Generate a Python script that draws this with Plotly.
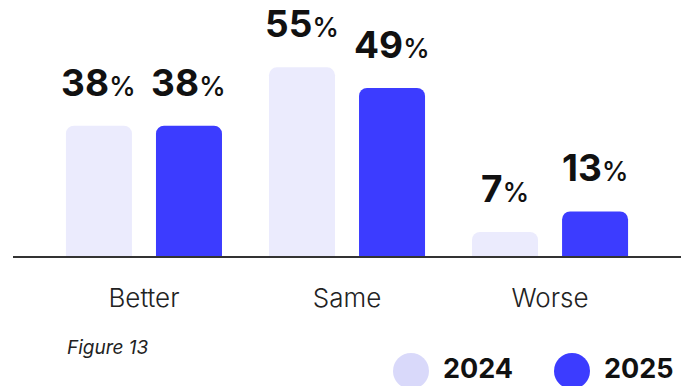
import plotly.graph_objects as go

categories = ["Better", "Same", "Worse"]
series_names = ["2024", "2025"]
values_2024 = [38, 55, 7]
values_2025 = [38, 49, 13]
figure_label = "Figure 13"

colors = {"2024": "#EBEBFD", "2025": "#3C3CFF"}
legend_colors = {"2024": "#D9D9FA", "2025": "#3C3CFF"}
FONT = "Inter"

W, Hh = 686, 386
ml, mr, mt, mb = 13, 5, 10, 130
pw, ph = W - ml - mr, Hh - mt - mb
px_per_unit = 3.43
ymax = ph / px_per_unit

def px2paper_x(px):
    return (px - ml) / pw

def px2paper_y(py):
    return (Hh - mb - py) / ph

fig = go.Figure()
series_vals = {"2024": values_2024, "2025": values_2025}
for name in series_names:
    fig.add_trace(go.Bar(
        x=categories, y=series_vals[name], name=name,
        marker=dict(color=colors[name], cornerradius=8, line=dict(width=0)),
        showlegend=False, hoverinfo="skip",
    ))

annotations = []
offsets = {"2024": -45, "2025": 45}
for name in series_names:
    for c, v in zip(categories, series_vals[name]):
        annotations.append(dict(
            x=c, y=v, xref="x", yref="y", xshift=offsets[name], yshift=19,
            yanchor="bottom", xanchor="center", showarrow=False,
            text=f"<b>{v}</b><span style='font-size:27px;font-weight:500'>%</span>",
            font=dict(family=FONT, size=37, color="#111111"),
        ))

# Legend (circles + labels)
legend_circle_cx = {"2024": 411, "2025": 572}
legend_text_x = {"2024": 441, "2025": 602}
shapes = []
r = 18
cy = 371
for name in series_names:
    cx = legend_circle_cx[name]
    shapes.append(dict(
        type="circle", xref="paper", yref="paper",
        x0=px2paper_x(cx - r), x1=px2paper_x(cx + r),
        y0=px2paper_y(cy + r), y1=px2paper_y(cy - r),
        fillcolor=legend_colors[name], line=dict(width=0),
    ))
    annotations.append(dict(
        x=px2paper_x(legend_text_x[name]), y=px2paper_y(368),
        xref="paper", yref="paper", xanchor="left", yanchor="middle",
        showarrow=False, text=f"<b>{name}</b>",
        font=dict(family=FONT, size=27, color="#111111"),
    ))

annotations.append(dict(
    x=px2paper_x(65), y=px2paper_y(347), xref="paper", yref="paper",
    xanchor="left", yanchor="middle", showarrow=False,
    text=f"<i>{figure_label}</i>",
    font=dict(family=FONT, size=19, color="#222222"),
))

fig.update_layout(
    width=W, height=Hh,
    margin=dict(l=ml, r=mr, t=mt, b=mb),
    paper_bgcolor="white", plot_bgcolor="white",
    barmode="group", bargap=0.113, bargroupgap=0.267,
    annotations=annotations, shapes=shapes,
    xaxis=dict(
        range=[-0.645, 2.645], showline=True, linecolor="#333333", linewidth=2,
        showgrid=False, ticks="", ticklabelstandoff=18,
        tickfont=dict(family=FONT, size=26, color="#222222", weight=300),
        fixedrange=True,
    ),
    yaxis=dict(range=[0, ymax], visible=False, showgrid=False, fixedrange=True),
    showlegend=False,
)

fig.write_html("out.html", config={"displayModeBar": False})
